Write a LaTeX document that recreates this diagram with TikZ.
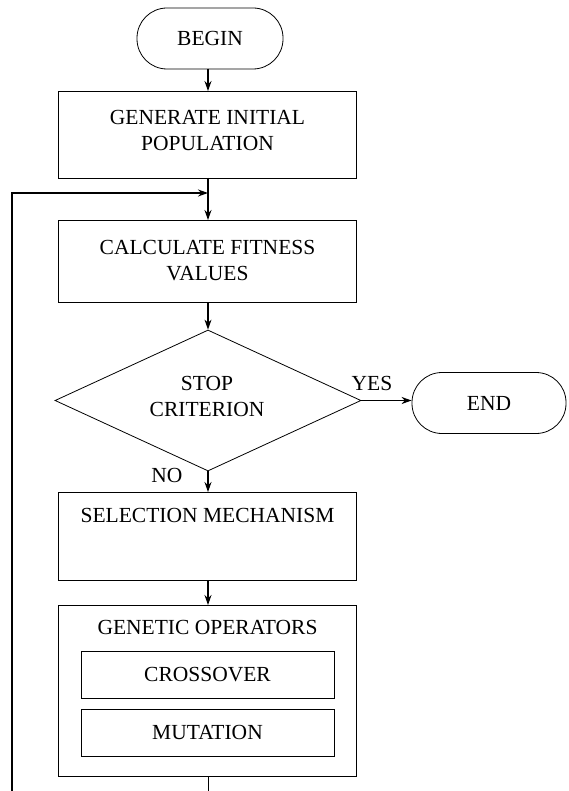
\documentclass[tikz,border=0pt]{standalone}
\usepackage{fontspec}
\setmainfont{Liberation Serif}
\usetikzlibrary{shapes.geometric,arrows.meta}
\begin{document}
\begin{tikzpicture}[x=1pt,y=-1pt,
  every node/.style={font=\fontsize{21.5}{26}\selectfont, align=center, inner sep=0pt},
  box/.style={draw, line width=0.8pt, minimum width=298pt},
  term/.style={draw, line width=0.8pt, rounded corners=30pt},
  arr/.style={line width=1.1pt, -{Stealth[length=10pt,width=7pt]}},
  thick line/.style={line width=1.5pt}]
\useasboundingbox (0,0) rectangle (568,791);
\node[term, minimum width=146pt, minimum height=61pt] (begin) at (210,38.5) {BEGIN};
\node[box, minimum height=87pt] (gen) at (207.5,134.5) {};
\node (gentxt) at (207.5,130) {GENERATE INITIAL\\POPULATION};
\node[box, minimum height=82pt] (calc) at (207.5,261) {CALCULATE FITNESS\\VALUES};
\node[draw, line width=0.8pt, diamond, minimum width=306pt, minimum height=141pt] (stop) at (208,400.5) {};
\node (stoptxt) at (207,396) {STOP\\CRITERION};
\node[term, minimum width=154pt, minimum height=61pt] (end) at (489,403) {END};
\node[box, minimum height=88pt] (sel) at (207.5,536) {};
\node (seltxt) at (207.5,515) {SELECTION MECHANISM};
\node[box, minimum height=171pt] (gop) at (207.5,690.5) {};
\node (goptxt) at (207.5,627) {GENETIC OPERATORS};
\node[box, minimum width=253pt, minimum height=47pt] (cross) at (207.5,674.5) {CROSSOVER};
\node[box, minimum width=253pt, minimum height=47pt] (mut) at (207.5,732.5) {MUTATION};
\node (yes) at (372,383) {YES};
\node (no) at (167,475) {NO};
\coordinate (join) at (208,193);
\coordinate (fbL) at (12,791);
\coordinate (fbB) at (208,791);
\draw[arr] (208,69) -- (208,91);
\draw[arr] (208,178) -- (208,220);
\draw[arr] (208,302) -- (stop.north);
\draw[arr, line width=1.8pt] (stop.east) -- (stop.east -| end.west);
\draw[arr] (stop.south) -- (208,492);
\draw[arr] (208,580) -- (208,605);
\draw[line width=0.8pt] (208,776) -- (fbB);
\draw[arr, thick line] (fbL) |- (join);
\end{tikzpicture}
\end{document}
